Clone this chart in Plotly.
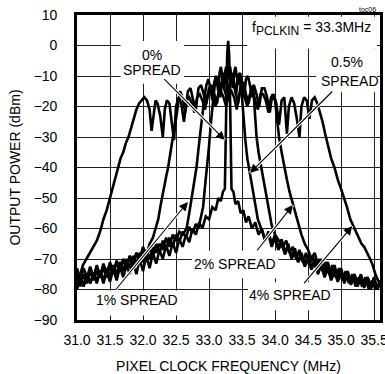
import plotly.graph_objects as go

# ---------------- data ----------------
TICK_F = [31.0, 31.5, 32.0, 32.5, 33.0, 33.5, 34.0, 34.5, 35.0, 35.5]
TICK_F_TEXT = ["31.0", "31.5", "32.0", "32.5", "33.0", "33.5", "34.0", "34.5", "35.0", "35.5"]
TICK_DB = [10, 0, -10, -20, -30, -40, -50, -60, -70, -80, -90]

# 4% spread
F_4 = [31.00, 31.02, 31.05, 31.09, 31.14, 31.20, 31.25, 31.30,
       31.35, 31.40, 31.45, 31.50, 31.56, 31.62, 31.66, 31.70,
       31.74, 31.78, 31.82, 31.86, 31.90, 31.94, 31.98, 32.02,
       32.06, 32.10, 32.13, 32.16, 32.19, 32.22, 32.26, 32.30,
       32.33, 32.36, 32.40, 32.44, 32.47, 32.50, 32.54, 32.58,
       32.62, 32.66, 32.70, 32.74, 32.78, 32.82, 32.86, 32.90,
       32.94, 32.98, 33.02, 33.06, 33.10, 33.14, 33.18, 33.22,
       33.26, 33.30, 33.34, 33.38, 33.42, 33.46, 33.50, 33.54,
       33.58, 33.62, 33.66, 33.70, 33.74, 33.78, 33.82, 33.86,
       33.90, 33.94, 33.98, 34.02, 34.06, 34.10, 34.14, 34.18,
       34.21, 34.25, 34.29, 34.33, 34.37, 34.40, 34.44, 34.48,
       34.52, 34.56, 34.60, 34.64, 34.68, 34.72, 34.76, 34.80,
       34.85, 34.90, 34.95, 35.00, 35.05, 35.09, 35.14, 35.18,
       35.22, 35.27, 35.31, 35.35, 35.40, 35.44, 35.48, 35.52, 35.56, 35.59]
P_4 = [-79, -77, -75, -72, -70, -68, -66, -64,
       -61, -57, -54, -50, -45, -40, -37, -35,
       -32, -30, -27, -24, -21, -19, -18, -17,
       -18, -21, -28, -22, -18, -19, -23, -30,
       -21, -18, -19, -26, -31, -20, -17, -19,
       -25, -18, -17, -19, -22, -17, -16, -18,
       -21, -16, -15, -17, -20, -16, -15, -17,
       -20, -16, -15, -17, -21, -16, -15, -17,
       -20, -16, -15, -18, -21, -16, -16, -18,
       -22, -17, -16, -19, -26, -18, -17, -29,
       -20, -17, -19, -24, -30, -20, -17, -18,
       -24, -18, -17, -19, -22, -25, -29, -33,
       -37, -40, -44, -47, -50, -53, -57, -59,
       -61, -63, -65, -66, -68, -70, -72, -75, -77, -78]

# 2% spread
F_2 = [31.00, 31.05, 31.10, 31.15, 31.20, 31.25, 31.30, 31.35,
       31.40, 31.45, 31.50, 31.55, 31.60, 31.65, 31.70, 31.75,
       31.80, 31.85, 31.90, 31.95, 32.00, 32.05, 32.10, 32.15,
       32.19, 32.23, 32.27, 32.31, 32.35, 32.38, 32.42, 32.46,
       32.50, 32.53, 32.56, 32.60, 32.64, 32.68, 32.72, 32.76,
       32.80, 32.84, 32.88, 32.92, 32.96, 33.00, 33.04, 33.08,
       33.12, 33.16, 33.20, 33.24, 33.28, 33.32, 33.36, 33.40,
       33.44, 33.48, 33.52, 33.56, 33.60, 33.64, 33.68, 33.72,
       33.76, 33.80, 33.84, 33.88, 33.92, 33.96, 34.00, 34.03,
       34.06, 34.10, 34.14, 34.18, 34.22, 34.27, 34.31, 34.35,
       34.40, 34.45, 34.50, 34.55, 34.60, 34.65, 34.70, 34.75,
       34.80, 34.85, 34.90, 34.95, 35.00, 35.05, 35.10, 35.15,
       35.20, 35.25, 35.30, 35.35, 35.40, 35.45, 35.50, 35.55, 35.59]
P_2 = [-75, -79, -75, -78, -74, -77, -74, -76,
       -73, -76, -72, -75, -71, -74, -70, -73,
       -69, -72, -68, -70, -66, -69, -65, -63,
       -60, -57, -52, -47, -43, -40, -34, -29,
       -24, -19, -15, -17, -22, -15, -14, -18,
       -21, -14, -13, -16, -19, -14, -13, -16,
       -19, -13, -12, -15, -18, -13, -12, -15,
       -19, -13, -12, -16, -19, -14, -13, -16,
       -20, -14, -14, -17, -22, -16, -18, -24,
       -30, -35, -40, -44, -48, -52, -55, -58,
       -62, -65, -67, -70, -68, -72, -70, -74,
       -71, -75, -72, -76, -73, -77, -74, -78,
       -75, -78, -75, -79, -76, -79, -76, -80, -78]

# 1% spread
F_1 = [31.00, 31.05, 31.10, 31.15, 31.20, 31.25, 31.30, 31.35,
       31.40, 31.45, 31.50, 31.55, 31.60, 31.65, 31.70, 31.75,
       31.80, 31.85, 31.90, 31.95, 32.00, 32.05, 32.10, 32.15,
       32.20, 32.25, 32.30, 32.35, 32.40, 32.45, 32.50, 32.55,
       32.60, 32.66, 32.70, 32.74, 32.78, 32.81, 32.84, 32.87,
       32.90, 32.93, 32.96, 32.99, 33.02, 33.05, 33.08, 33.11,
       33.14, 33.17, 33.20, 33.23, 33.26, 33.29, 33.32, 33.35,
       33.38, 33.41, 33.44, 33.47, 33.50, 33.53, 33.56, 33.59,
       33.62, 33.65, 33.67, 33.69,
       33.72, 33.75, 33.79, 33.83, 33.87, 33.91, 33.95, 34.00,
       34.06, 34.12, 34.17, 34.22, 34.27, 34.32, 34.37, 34.42,
       34.47, 34.52, 34.57, 34.62, 34.67, 34.72, 34.77, 34.82,
       34.87, 34.92, 34.97, 35.02, 35.07, 35.12, 35.17, 35.22,
       35.27, 35.32, 35.37, 35.42, 35.47, 35.52, 35.59]
P_1 = [-80, -76, -79, -75, -78, -75, -77, -74,
       -77, -73, -76, -72, -75, -71, -74, -70,
       -73, -69, -72, -68, -71, -67, -70, -66,
       -68, -65, -67, -63, -66, -62, -64, -61,
       -62, -60, -55, -50, -45, -40, -34, -28,
       -22, -17, -13, -11, -14, -18, -12, -10,
       -13, -17, -11, -9, -12, -16, -11, -9,
       -12, -16, -10, -9, -12, -17, -11, -10,
       -13, -17, -14, -22,
       -30, -35, -40, -45, -50, -55, -59, -62,
       -64, -66, -64, -68, -66, -70, -67, -71,
       -68, -72, -69, -73, -70, -74, -71, -75,
       -72, -76, -73, -77, -74, -78, -75, -79,
       -76, -79, -76, -80, -77, -80, -78]

# 0.5% spread
F_05 = [31.00, 31.05, 31.10, 31.15, 31.20, 31.25, 31.30, 31.35,
        31.40, 31.45, 31.50, 31.55, 31.60, 31.65, 31.70, 31.75,
        31.80, 31.85, 31.90, 31.95, 32.00, 32.05, 32.10, 32.15,
        32.20, 32.25, 32.30, 32.35, 32.40, 32.45, 32.50, 32.55,
        32.60, 32.65, 32.70, 32.75, 32.80, 32.84, 32.88, 32.91,
        32.94, 32.97, 33.00, 33.03, 33.06,
        33.08, 33.10, 33.12, 33.14, 33.16, 33.18, 33.20, 33.22,
        33.24, 33.26, 33.28, 33.30, 33.32, 33.34, 33.36, 33.38,
        33.40, 33.42, 33.44, 33.46, 33.48, 33.50,
        33.52, 33.55, 33.58, 33.62, 33.66, 33.70, 33.74, 33.79,
        33.85, 33.90, 33.95, 34.00, 34.05, 34.10, 34.15, 34.20,
        34.25, 34.30, 34.35, 34.40, 34.45, 34.50, 34.55, 34.60,
        34.65, 34.70, 34.75, 34.80, 34.85, 34.90, 34.95, 35.00,
        35.05, 35.10, 35.15, 35.20, 35.25, 35.30, 35.35, 35.40,
        35.45, 35.50, 35.55, 35.59]
P_05 = [-73, -77, -73, -76, -72.5, -76, -72, -75.5,
        -71.5, -75, -71, -74.5, -70.5, -74, -70, -73,
        -69, -72, -68, -71, -67, -70, -66, -69,
        -65, -68, -64, -67, -63, -66, -62, -64.5,
        -61, -63, -59.5, -61.5, -58.5, -60, -56, -53,
        -46, -40, -33, -25, -18,
        -13, -10, -12, -15, -9, -7, -10, -14,
        -9, -7, -11, -8, -7, -10, -14, -9,
        -7, -10, -13, -10, -12, -17,
        -24, -31, -37, -42, -48, -53, -57, -60,
        -64, -61, -65, -62, -66.5, -63.5, -68, -65,
        -69.5, -66.5, -71, -68, -72, -69, -73, -70,
        -74, -71, -75, -72, -76, -73, -77, -74,
        -77.5, -74.5, -78, -75, -78.5, -75.5, -79, -76,
        -79, -76.5, -79.5, -77]

# 0% spread (carrier + pedestal)
F_0 = [31.00, 31.05, 31.10, 31.15, 31.20, 31.25, 31.30, 31.35,
       31.40, 31.45, 31.50, 31.55, 31.60, 31.65, 31.70, 31.75,
       31.80, 31.85, 31.90, 31.95, 32.00, 32.05, 32.10, 32.15,
       32.20, 32.25, 32.30, 32.35, 32.40, 32.45, 32.50, 32.55,
       32.60, 32.65, 32.70, 32.75, 32.80, 32.85, 32.90, 32.95,
       33.00, 33.05, 33.10, 33.14, 33.18, 33.21, 33.24, 33.255,
       33.265, 33.275, 33.29, 33.305, 33.315, 33.325, 33.34, 33.37,
       33.40, 33.44, 33.48, 33.52, 33.56, 33.60, 33.65, 33.70,
       33.75, 33.80, 33.85, 33.90, 33.95, 34.00, 34.05, 34.10,
       34.15, 34.20, 34.25, 34.30, 34.35, 34.40, 34.45, 34.50,
       34.55, 34.60, 34.65, 34.70, 34.75, 34.80, 34.85, 34.90,
       34.95, 35.00, 35.05, 35.10, 35.15, 35.20, 35.25, 35.30,
       35.35, 35.40, 35.45, 35.50, 35.55, 35.59]
P_0 = [-79, -75, -79, -75, -78, -74.5, -78, -74,
       -78, -74, -77.5, -73, -77, -72.5, -76, -72,
       -75, -71, -75, -70, -74, -69, -73, -68,
       -71.5, -67, -70, -65.5, -69, -64.5, -68, -63.5,
       -66, -62, -64.5, -60, -62, -58, -60, -56,
       -57, -53, -54, -50, -51, -48, -47, -30,
       -12, -3, 1.5, -3, -12, -30, -47, -48,
       -52, -51, -55, -54, -58, -56, -60, -58,
       -62, -60, -64, -62, -66, -63, -67, -65,
       -68.5, -66, -70, -67.5, -71, -69, -72.5, -70,
       -73.5, -71, -75, -72, -76, -73, -77, -74,
       -77.5, -74.5, -78, -75, -78.5, -75.5, -79, -76,
       -79.5, -76, -80, -76.5, -80, -77]

SERIES = [("4% SPREAD", F_4, P_4), ("2% SPREAD", F_2, P_2), ("1% SPREAD", F_1, P_1),
          ("0.5% SPREAD", F_05, P_05), ("0% SPREAD", F_0, P_0)]

FONT = "Liberation Sans, Arial, Helvetica, sans-serif"

fig = go.Figure()
for name, fx, py in SERIES:
    fig.add_trace(go.Scatter(x=fx, y=py, mode="lines", name=name,
                             line=dict(color="black", width=2.6),
                             hoverinfo="skip", showlegend=False))

# white label boxes (cover grid like the original)
boxes = [
    (31.66, 32.62, 1.5, -12.5),      # 0% SPREAD
    (34.62, 35.545, -1.0, -15.3),    # 0.5% SPREAD
    (33.58, 35.545, 9.4, -1.0),      # fPCLKIN
    (32.74, 34.05, -67.3, -76.3),    # 2% SPREAD
    (31.24, 32.58, -80.3, -88.5),    # 1% SPREAD
    (33.59, 34.88, -77.6, -86.8),    # 4% SPREAD
]
for x0, x1, y0, y1 in boxes:
    fig.add_shape(type="rect", x0=x0, x1=x1, y0=y0, y1=y1, xref="x", yref="y",
                  fillcolor="white", line=dict(width=0), layer="above")

# arrows: (tail f, tail dB, tip f, tip dB)
arrows = [
    (32.30, -10.5, 33.24, -31.0),
    (34.89, -14.6, 33.62, -41.8),
    (31.57, -80.5, 32.68, -51.3),
    (33.71, -67.7, 34.27, -52.3),
    (34.42, -78.5, 35.17, -59.2),
]
for tx, ty, hx, hy in arrows:
    fig.add_annotation(x=hx, y=hy, ax=tx, ay=ty, xref="x", yref="y", axref="x", ayref="y",
                       text="", showarrow=True, arrowhead=0, arrowwidth=3.2, arrowcolor="white")
for tx, ty, hx, hy in arrows:
    fig.add_annotation(x=hx, y=hy, ax=tx, ay=ty, xref="x", yref="y", axref="x", ayref="y",
                       text="", showarrow=True, arrowhead=2, arrowsize=1.6, arrowwidth=1.1,
                       arrowcolor="black")

labels = [
    ("0%", 32.14, -3.1),
    ("SPREAD", 32.14, -7.9),
    ("0.5%", 35.09, -5.4),
    ("SPREAD", 35.14, -11.5),
    ("2% SPREAD", 33.39, -71.6),
    ("1% SPREAD", 31.91, -83.4),
    ("4% SPREAD", 34.23, -81.8),
    ("f<sub><span style='font-size:12px'>PCLKIN</span></sub> = 33.3MHz", 34.55, 5.6),
]
for t, x, y in labels:
    fig.add_annotation(x=x, y=y, xref="x", yref="y", text=t, showarrow=False,
                       font=dict(family=FONT, size=14, color="black"))

fig.add_annotation(x=0.995, y=1.0, xref="paper", yref="paper", xanchor="right", yanchor="bottom",
                   text="toc06", showarrow=False, yshift=0,
                   font=dict(family=FONT, size=7, color="black"))

axis_common = dict(showgrid=True, gridcolor="#1e1e1e", gridwidth=1, showline=True,
                   linecolor="black", linewidth=2.6, mirror=True, zeroline=False, ticks="",
                   automargin=False, ticklabeloverflow="allow",
                   tickfont=dict(family=FONT, size=14, color="black"))

fig.update_xaxes(range=[31.0, 35.59], tickvals=TICK_F, ticktext=TICK_F_TEXT,
                 title=dict(text="PIXEL CLOCK FREQUENCY (MHz)", font=dict(family=FONT, size=14, color="black"),
                            standoff=16),
                 ticklabelstandoff=5, **axis_common)
fig.update_yaxes(range=[-90, 10], tickvals=TICK_DB,
                 title=dict(text="OUTPUT POWER (dBm)", font=dict(family=FONT, size=14, color="black"),
                            standoff=10),
                 ticklabelstandoff=14, **axis_common)

fig.update_layout(width=385, height=374, margin=dict(l=77, r=5, t=15, b=54, autoexpand=False),
                  plot_bgcolor="white", paper_bgcolor="white",
                  font=dict(family=FONT, size=14, color="black"))

fig.write_html("out.html", config={"displayModeBar": False},
               post_script="document.body.style.margin='0';document.body.style.overflow='hidden';")
